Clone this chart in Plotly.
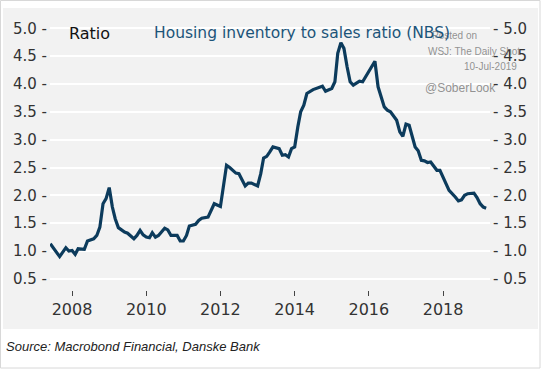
import plotly.graph_objects as go

dates = [
    "2007-06", "2007-09", "2007-11", "2007-12", "2008-01", "2008-02", "2008-03", "2008-05",
    "2008-06", "2008-08", "2008-09", "2008-10", "2008-11", "2008-12", "2009-01", "2009-02",
    "2009-03", "2009-04", "2009-06", "2009-07", "2009-09", "2009-10", "2009-11", "2009-12",
    "2010-01", "2010-02", "2010-03", "2010-04", "2010-05", "2010-07", "2010-08", "2010-09",
    "2010-11", "2010-12", "2011-01", "2011-02", "2011-03", "2011-05", "2011-06", "2011-07",
    "2011-09", "2011-10", "2011-11", "2012-01", "2012-02", "2012-03", "2012-04", "2012-06",
    "2012-07", "2012-08", "2012-09", "2012-10", "2012-11", "2013-01", "2013-02", "2013-03",
    "2013-04", "2013-05", "2013-06", "2013-08", "2013-09", "2013-10", "2013-11", "2013-12",
    "2014-01", "2014-02", "2014-03", "2014-04", "2014-05", "2014-07", "2014-09", "2014-10",
    "2014-11", "2015-01", "2015-02", "2015-03", "2015-04", "2015-05", "2015-06", "2015-07",
    "2015-08", "2015-10", "2015-11", "2016-01", "2016-02", "2016-03", "2016-04", "2016-05",
    "2016-06", "2016-07", "2016-08", "2016-10", "2016-11", "2016-12", "2017-01", "2017-02",
    "2017-03", "2017-04", "2017-05", "2017-06", "2017-07", "2017-08", "2017-09", "2017-10",
    "2017-11", "2017-12", "2018-01", "2018-02", "2018-03", "2018-05", "2018-06", "2018-07",
    "2018-08", "2018-09", "2018-10", "2018-11", "2018-12", "2019-01", "2019-02", "2019-03",
]
ratio = [
    1.13, 0.90, 1.06, 1.00, 1.01, 0.94, 1.04, 1.03,
    1.18, 1.22, 1.28, 1.43, 1.85, 1.94, 2.14, 1.79,
    1.58, 1.42, 1.34, 1.32, 1.22, 1.28, 1.37, 1.29,
    1.25, 1.24, 1.33, 1.25, 1.28, 1.41, 1.38, 1.28,
    1.28, 1.18, 1.18, 1.28, 1.45, 1.48, 1.55, 1.59,
    1.61, 1.72, 1.85, 1.80, 2.15, 2.54, 2.50, 2.40,
    2.39, 2.27, 2.17, 2.22, 2.22, 2.17, 2.39, 2.67,
    2.70, 2.78, 2.87, 2.84, 2.72, 2.73, 2.69, 2.84,
    2.87, 3.23, 3.50, 3.62, 3.83, 3.90, 3.95, 3.96,
    3.87, 3.92, 4.04, 4.55, 4.74, 4.64, 4.31, 4.04,
    3.98, 4.05, 4.04, 4.22, 4.31, 4.41, 3.95, 3.77,
    3.59, 3.53, 3.50, 3.35, 3.14, 3.06, 3.28, 3.26,
    3.05, 2.87, 2.80, 2.63, 2.62, 2.59, 2.60, 2.52,
    2.45, 2.45, 2.33, 2.21, 2.09, 1.97, 1.90, 1.92,
    2.00, 2.03, 2.04, 2.04, 1.96, 1.85, 1.79, 1.77,
]
y_ticks = [0.5, 1.0, 1.5, 2.0, 2.5, 3.0, 3.5, 4.0, 4.5, 5.0]
left_labels = [f"{v:.1f} -" for v in y_ticks]
right_labels = [f"- {v:.1f}" for v in y_ticks]

title_text = "Housing inventory to sales ratio (NBS)"
unit_text = "Ratio"
source_text = "Source: Macrobond Financial, Danske Bank"

LINE = "#0c3b5c"
TITLE = "#1b5479"
PANEL = "#f2f2f2"
TXT = "#222222"
FONT = "DejaVu Sans"

fig = go.Figure()
fig.add_trace(go.Scatter(x=dates, y=ratio, mode="lines",
                         line=dict(color=LINE, width=3.2), showlegend=False,
                         hoverinfo="skip"))
fig.add_trace(go.Scatter(x=dates, y=ratio, mode="lines", yaxis="y2",
                         line=dict(color="rgba(0,0,0,0)", width=0), showlegend=False,
                         hoverinfo="skip"))

yrange = [0.3, 5.15]
fig.update_layout(
    width=541, height=369,
    margin=dict(l=50, r=51, t=20, b=79),
    paper_bgcolor="white",
    plot_bgcolor=PANEL,
    font=dict(family=FONT, color=TXT),
    xaxis=dict(type="date", range=["2007-05-29", "2019-04-08"],
               tick0="2008-01-01", dtick="M24", tickformat="%Y",
               ticks="outside", ticklen=5, tickwidth=1, tickcolor="#444",
               showgrid=False, zeroline=False, showline=False,
               tickfont=dict(size=16, color="#333")),
    yaxis=dict(range=yrange, tickvals=y_ticks, ticktext=left_labels,
               ticks="", showgrid=True, gridcolor="white", gridwidth=1.5,
               zeroline=False, showline=False, ticklabelstandoff=2,
               tickfont=dict(size=15, color="#333")),
    yaxis2=dict(range=yrange, overlaying="y", side="right", tickvals=y_ticks,
                ticktext=right_labels, ticks="", showgrid=False, zeroline=False,
                showline=False, ticklabelstandoff=2,
                tickfont=dict(size=15, color="#333")),
)

# panel and outer border
fig.add_shape(type="rect", xref="paper", yref="paper",
              x0=-47/440, x1=488/440, y0=(290-329)/270, y1=282/270,
              fillcolor=PANEL, line=dict(width=0), layer="below")
fig.add_shape(type="rect", xref="paper", yref="paper",
              x0=-49.5/440, x1=490/440, y0=(290-368)/270, y1=289.5/270,
              fillcolor="rgba(0,0,0,0)", line=dict(width=1, color="#d8d8d8"), layer="below")

WM = "rgba(120,120,120,0.8)"
anns = [
    dict(text=unit_text, x=(67-50)/440, y=(290-33)/270, xanchor="left", yanchor="middle",
         font=dict(size=16, color="#111")),
    dict(text="Posted on", x=(430-50)/440, y=(290-35)/270, xanchor="left", yanchor="middle",
         font=dict(family="Liberation Sans", size=10, color=WM)),
    dict(text="WSJ: The Daily Shot", x=(426-50)/440, y=(290-51)/270, xanchor="left",
         yanchor="middle", font=dict(family="Liberation Sans", size=10, color=WM)),
    dict(text="10-Jul-2019", x=(462-50)/440, y=(290-66)/270, xanchor="left",
         yanchor="middle", font=dict(family="Liberation Sans", size=10, color=WM)),
    dict(text="@SoberLook", x=(423-50)/440, y=(290-88)/270, xanchor="left",
         yanchor="middle", font=dict(family="Liberation Sans", size=12, color=WM)),
    dict(text=title_text, x=(302-50)/440, y=(290-33)/270, xanchor="center", yanchor="middle",
         font=dict(size=15.5, color=TITLE)),
    dict(text=f"<i>{source_text}</i>", x=(4-50)/440, y=(290-346)/270, xanchor="left",
         yanchor="middle", font=dict(family="Liberation Sans", size=13, color="#222")),
]
for a in anns:
    a.update(xref="paper", yref="paper", showarrow=False)
    fig.add_annotation(**a)

fig.write_html("out.html", config={"displayModeBar": False},
               post_script="document.body.style.margin='0';")
